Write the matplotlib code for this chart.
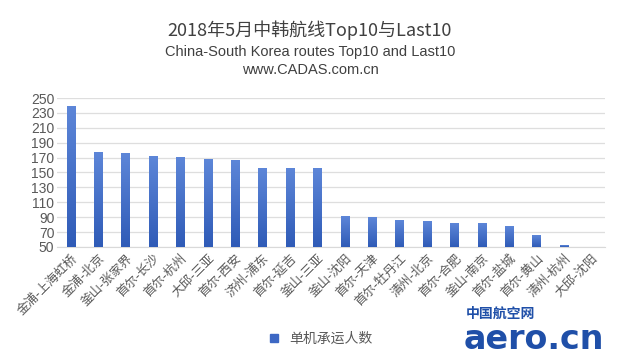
import numpy as np
import matplotlib
matplotlib.use("Agg")
import matplotlib.pyplot as plt
from matplotlib.lines import Line2D

plt.rcParams['font.family'] = ['Noto Sans CJK SC', 'DejaVu Sans']

routes = ['金浦-上海虹桥', '金浦-北京', '釜山-张家界', '首尔-长沙', '首尔-杭州',
          '大邱-三亚', '首尔-西安', '济州-浦东', '首尔-延吉', '釜山-三亚',
          '釜山-沈阳', '首尔-天津', '首尔-牡丹江', '清州-北京', '首尔-合肥',
          '釜山-南京', '首尔-盐城', '首尔-黄山', '清州-杭州', '大邱-沈阳']
passengers = [238, 177, 175, 172, 170, 168, 166, 156, 155, 155,
              91, 89, 85, 84, 81, 81, 78, 66, 52, 45]
yticks = list(range(50, 251, 20))
series_name = '单机承运人数'

fig = plt.figure(figsize=(6.2, 3.59), dpi=100)
ax = fig.add_axes([0.092, 0.312, 0.884, 0.415])

x = np.arange(len(routes))
bars = ax.bar(x, passengers, width=0.3, color='#3d68c4', zorder=2)

ymin, ymax = 50, 250
# vertical gradient on each bar, like the original
grad = np.linspace(0, 1, 100).reshape(-1, 1)
cmap = matplotlib.colors.LinearSegmentedColormap.from_list('g', ['#2f5bb7', '#5d86d8'])
for b in bars:
    x0, w, h = b.get_x(), b.get_width(), b.get_height()
    if h <= ymin:
        continue
    im = ax.imshow(grad, extent=[x0, x0 + w, ymin, h], origin='lower', aspect='auto',
                   cmap=cmap, zorder=3)

ax.set_xlim(-0.5, len(routes) - 0.5)
ax.set_ylim(ymin, ymax)
ax.set_yticks(yticks)
ax.yaxis.grid(True, color='#dedede', linewidth=0.9, zorder=0)
ax.set_axisbelow(True)
for s in ['top', 'right', 'left']:
    ax.spines[s].set_visible(False)
ax.spines['bottom'].set_color('#d9d9d9')
ax.tick_params(axis='both', length=0, colors='#595959', labelsize=9.5)
ax.tick_params(axis='y', pad=2)
for t in ax.get_yticklabels():
    t.set_family('Liberation Sans')
    t.set_fontsize(10)
ax.set_xticks(x)
ax.set_xticklabels(routes, rotation=45, ha='right', rotation_mode='anchor', fontsize=9)

fig.text(0.5, 0.915, '2018年5月中韩航线Top10与Last10', ha='center', va='center',
         fontsize=13, color='#404040')
fig.text(0.5, 0.855, 'China-South Korea routes Top10 and Last10', ha='center', va='center',
         fontsize=10.5, color='#404040', family='Liberation Sans')
fig.text(0.5, 0.805, 'www.CADAS.com.cn', ha='center', va='center',
         fontsize=10.5, color='#404040', family='Liberation Sans')

handle = Line2D([], [], marker='s', linestyle='none', color='#3d68c4', markersize=6)
fig.legend([handle], [series_name], loc='center', bbox_to_anchor=(0.51, 0.055),
           frameon=False, fontsize=10, handletextpad=0.1, labelcolor='#595959')

# site logo in the corner
fig.text(0.752, 0.125, '中国航空网', ha='left', va='center', fontsize=10,
         color='#1f4fa8', weight='bold')
fig.text(0.748, 0.055, 'aero.cn', ha='left', va='center', fontsize=24,
         color='#1f4fa8', weight='bold', family='DejaVu Sans')

fig.savefig('out.png', dpi=100)
